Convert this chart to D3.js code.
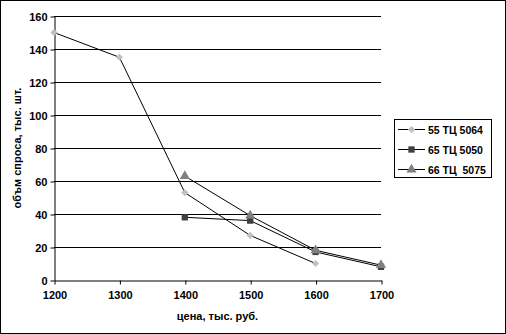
<!DOCTYPE html>
<html>
<head>
<meta charset="utf-8">
<script src="https://cdn.jsdelivr.net/npm/d3@7"></script>
<style>
  body { margin: 0; background: #fff; }
  text { font-family: "Liberation Sans", Arial, sans-serif; font-weight: bold; white-space: pre; }
</style>
</head>
<body>
<div id="chart"></div>
<script>
var prices = [1200, 1300, 1400, 1500, 1600, 1700];
var yTicks = [0, 20, 40, 60, 80, 100, 120, 140, 160];
var seriesNames = ["55 ТЦ 5064", "65 ТЦ 5050", "66 ТЦ  5075"];
var s5064 = [[1200, 150], [1300, 135], [1400, 53], [1500, 27], [1600, 10]];
var s5050 = [[1400, 38], [1500, 36], [1600, 17], [1700, 8]];
var s5075 = [[1400, 63], [1500, 39], [1600, 18], [1700, 9]];

var W = 506, H = 334;
var margin = {top: 16, right: 125, bottom: 54, left: 54};

var svg = d3.select("#chart").append("svg")
    .attr("width", W).attr("height", H);

// outer frame
svg.append("rect")
    .attr("x", 0.5).attr("y", 0.5)
    .attr("width", W - 1).attr("height", H - 1)
    .attr("fill", "#fff").attr("stroke", "#000");

var x = d3.scaleLinear().domain([1200, 1700]).range([margin.left, W - margin.right]);
var y = d3.scaleLinear().domain([0, 160]).range([H - margin.bottom, margin.top]);

// gridlines
svg.append("g").selectAll("line")
  .data(yTicks.slice(1))
  .enter().append("line")
    .attr("x1", x(1200)).attr("x2", x(1700))
    .attr("y1", function(d) { return Math.round(y(d)) + 0.5; })
    .attr("y2", function(d) { return Math.round(y(d)) + 0.5; })
    .attr("stroke", "#000");

var yAxis = svg.append("g")
    .attr("transform", "translate(" + (Math.round(x(1200)) + 0.5) + ",0.5)")
    .call(d3.axisLeft(y).tickValues(yTicks).tickSize(4).tickPadding(3).tickSizeOuter(0));
var xAxis = svg.append("g")
    .attr("transform", "translate(0.5," + (Math.round(y(0)) + 0.5) + ")")
    .call(d3.axisBottom(x).tickValues(prices).tickFormat(d3.format("d")).tickSize(4).tickPadding(7).tickSizeOuter(0));
[yAxis, xAxis].forEach(function(a) {
  a.selectAll("path,line").attr("stroke", "#000");
  a.selectAll("text").attr("font-size", "11px").attr("fill", "#000")
    .attr("font-family", "Liberation Sans, Arial, sans-serif").attr("font-weight", "bold");
});

svg.append("text")
    .attr("x", (x(1200) + x(1700)) / 2).attr("y", 320)
    .attr("text-anchor", "middle").attr("font-size", "11px")
    .text("цена, тыс. руб.");
svg.append("text")
    .attr("transform", "translate(21," + ((y(0) + y(160)) / 2) + ") rotate(-90)")
    .attr("text-anchor", "middle").attr("font-size", "11px")
    .text("объм спроса, тыс. шт.");

var series = [
  {name: seriesNames[0], data: s5064, color: "#c0c0c0", shape: d3.symbolSquare, size: 26, rot: 45},
  {name: seriesNames[1], data: s5050, color: "#404040", shape: d3.symbolSquare, size: 40, rot: 0},
  {name: seriesNames[2], data: s5075, color: "#808080", shape: d3.symbolTriangle, size: 44, rot: 0}
];

var line = d3.line()
    .x(function(d) { return x(d[0]); })
    .y(function(d) { return y(d[1]); });

series.forEach(function(s) {
  svg.append("path")
    .datum(s.data)
    .attr("d", line)
    .attr("fill", "none")
    .attr("stroke", "#000")
    .attr("stroke-width", 1);
  svg.append("g").selectAll("path")
    .data(s.data)
    .enter().append("path")
      .attr("transform", function(d) { return "translate(" + x(d[0]) + "," + y(d[1]) + ") rotate(" + s.rot + ")"; })
      .attr("d", d3.symbol().type(s.shape).size(s.size))
      .attr("fill", s.color);
});

// legend
var legend = svg.append("g").attr("transform", "translate(394,119)");
legend.append("rect")
    .attr("x", 0.5).attr("y", 0.5).attr("width", 97).attr("height", 58)
    .attr("fill", "#fff").attr("stroke", "#000");
legend.selectAll("g.item")
  .data(series)
  .enter().append("g")
    .attr("class", "item")
    .attr("transform", function(d, i) { return "translate(0," + (10.5 + i * 20) + ")"; })
  .call(function(g) {
    g.append("line")
      .attr("x1", 4).attr("x2", 31)
      .attr("stroke", "#000");
    g.append("path")
      .attr("transform", function(d) { return "translate(17.5,0) rotate(" + d.rot + ")"; })
      .attr("d", function(d) { return d3.symbol().type(d.shape).size(d.size)(); })
      .attr("fill", function(d) { return d.color; });
    g.append("text")
      .attr("x", 34).attr("y", 4)
      .attr("font-size", "10.5px")
      .attr("fill", "#000")
      .text(function(d) { return d.name; });
  });
</script>
</body>
</html>
